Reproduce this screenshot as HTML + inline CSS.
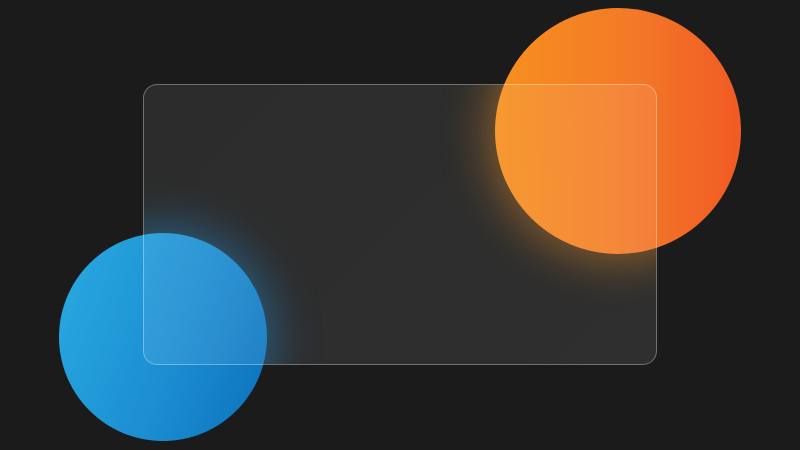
<!DOCTYPE html>
<html>
<head>
<meta charset="utf-8">
<style>
  html,body{margin:0;padding:0;}
  body{width:800px;height:450px;background:#1b1b1b;position:relative;overflow:hidden;font-family:"Liberation Sans",sans-serif;}
  .circle{position:absolute;border-radius:50%;}
  #orange{left:495px;top:8px;width:246px;height:246px;
    background:linear-gradient(90deg,#f7901e 0%,#f37a28 55%,#f15a24 100%);}
  #blue{left:59px;top:233px;width:208px;height:208px;
    background:linear-gradient(110deg,#29abe2 0%,#1b8bd0 60%,#0a70bb 100%);}
  #glass{position:absolute;left:143px;top:84px;width:512px;height:279px;border-radius:14px;overflow:hidden;
    border:1px solid rgba(255,255,255,0.32);
    background:linear-gradient(135deg,rgba(255,255,255,0.08),rgba(255,255,255,0.09));}
  .glow{position:absolute;border-radius:50%;}
  #orange-glow{left:351px;top:-77px;width:246px;height:246px;box-shadow:0 0 45px 8px rgba(247,150,40,0.45);}
  #blue-glow{left:-85px;top:148px;width:208px;height:208px;box-shadow:0 0 45px 8px rgba(41,150,226,0.45);}
</style>
</head>
<body>
  <div id="orange" class="circle"></div>
  <div id="blue" class="circle"></div>
  <div id="glass">
    <div id="orange-glow" class="glow"></div>
    <div id="blue-glow" class="glow"></div>
  </div>
</body>
</html>
